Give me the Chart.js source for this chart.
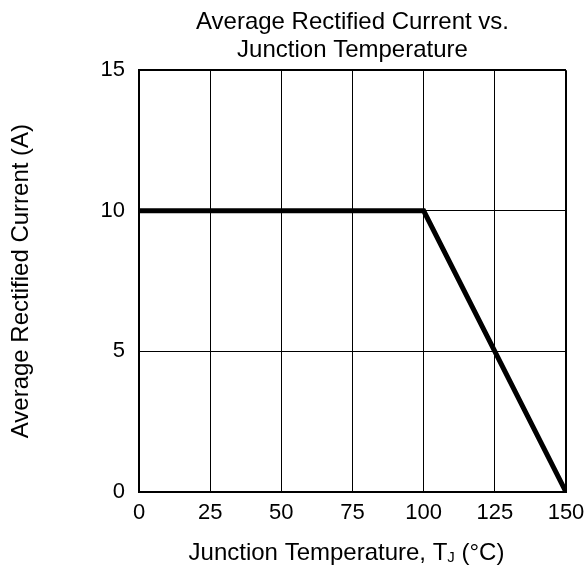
<!DOCTYPE html>
<html>
<head>
<meta charset="utf-8">
<title>Average Rectified Current vs. Junction Temperature</title>
<script src="https://cdn.jsdelivr.net/npm/chart.js"></script>
<style>
  html, body { margin: 0; padding: 0; background: #fff; }
  #wrap { width: 587px; height: 568px; }
</style>
</head>
<body>
<div id="wrap"><canvas id="derating"></canvas></div>
<script>
// data
const tempC = [0, 100, 150];
const currentA = [10, 10, 0];
const xTicks = [0, 25, 50, 75, 100, 125, 150];
const yTicks = [0, 5, 10, 15];

const FONT = 'Liberation Sans, Arial, sans-serif';

// x axis title with a real subscript J
const xTitlePlugin = {
    id: 'xTitle',
    afterDraw(chart) {
        const c = chart.ctx;
        const area = chart.chartArea;
        const main = '24px ' + FONT, sub = '15px ' + FONT;
        const a = 'Junction Temperature, T', j = 'J', b = ' (°C)';
        c.save();
        c.fillStyle = '#000';
        c.textBaseline = 'middle';
        c.textAlign = 'left';
        c.font = main;
        const wa = c.measureText(a).width, wb = c.measureText(b).width;
        c.font = sub;
        const wj = c.measureText(j).width;
        let x = (area.left + area.right) / 2 - 6 - (wa + wj + wb) / 2;
        const y = 553;
        c.font = main;
        c.fillText(a, x, y);
        x += wa;
        c.font = sub;
        c.fillText(j, x, y + 5);
        x += wj;
        c.font = main;
        c.fillText(b, x, y);
        c.restore();
    }
};

const ctx = document.getElementById('derating');
new Chart(ctx, {
    type: 'line',
    data: {
        datasets: [{
            data: tempC.map((t, i) => ({ x: t, y: currentA[i] })),
            borderColor: '#000',
            borderWidth: 5,
            pointRadius: 0,
            tension: 0,
            fill: false
        }]
    },
    options: {
        responsive: true,
        maintainAspectRatio: false,
        animation: false,
        layout: { padding: { left: 0, right: 0, top: 0, bottom: 0 } },
        plugins: {
            legend: { display: false },
            tooltip: { enabled: false },
            title: {
                display: true,
                fullSize: false,
                text: ['Average Rectified Current vs.', 'Junction Temperature'],
                color: '#000',
                font: { family: FONT, size: 24, weight: 'normal', lineHeight: 1.17 },
                padding: { top: 8, bottom: 6 }
            }
        },
        scales: {
            x: {
                type: 'linear',
                min: 0, max: 150,
                afterBuildTicks: s => { s.ticks = xTicks.map(v => ({ value: v })); },
                afterFit: s => { s.height = 76; s.paddingRight = 21; s.paddingLeft = 0; },
                grid: {
                    color: '#000',
                    lineWidth: c => (c.tick && c.tick.value === 150 ? 2 : 1),
                    drawTicks: false
                },
                border: { display: true, color: '#000', width: 2 },
                ticks: { color: '#000', padding: 8, maxRotation: 0, font: { family: FONT, size: 22 } }
            },
            y: {
                type: 'linear',
                min: 0, max: 15,
                afterBuildTicks: s => { s.ticks = yTicks.map(v => ({ value: v })); },
                afterFit: s => { s.width = 139; },
                grid: {
                    color: '#000',
                    lineWidth: c => (c.tick && c.tick.value === 15 ? 2 : 1),
                    drawTicks: false
                },
                border: { display: true, color: '#000', width: 2 },
                ticks: { color: '#000', padding: 14, font: { family: FONT, size: 22 } },
                title: {
                    display: true,
                    text: 'Average Rectified Current (A)',
                    color: '#000',
                    font: { family: FONT, size: 24 },
                    padding: { top: 7, bottom: 0 }
                }
            }
        }
    },
    plugins: [xTitlePlugin]
});
</script>
</body>
</html>
